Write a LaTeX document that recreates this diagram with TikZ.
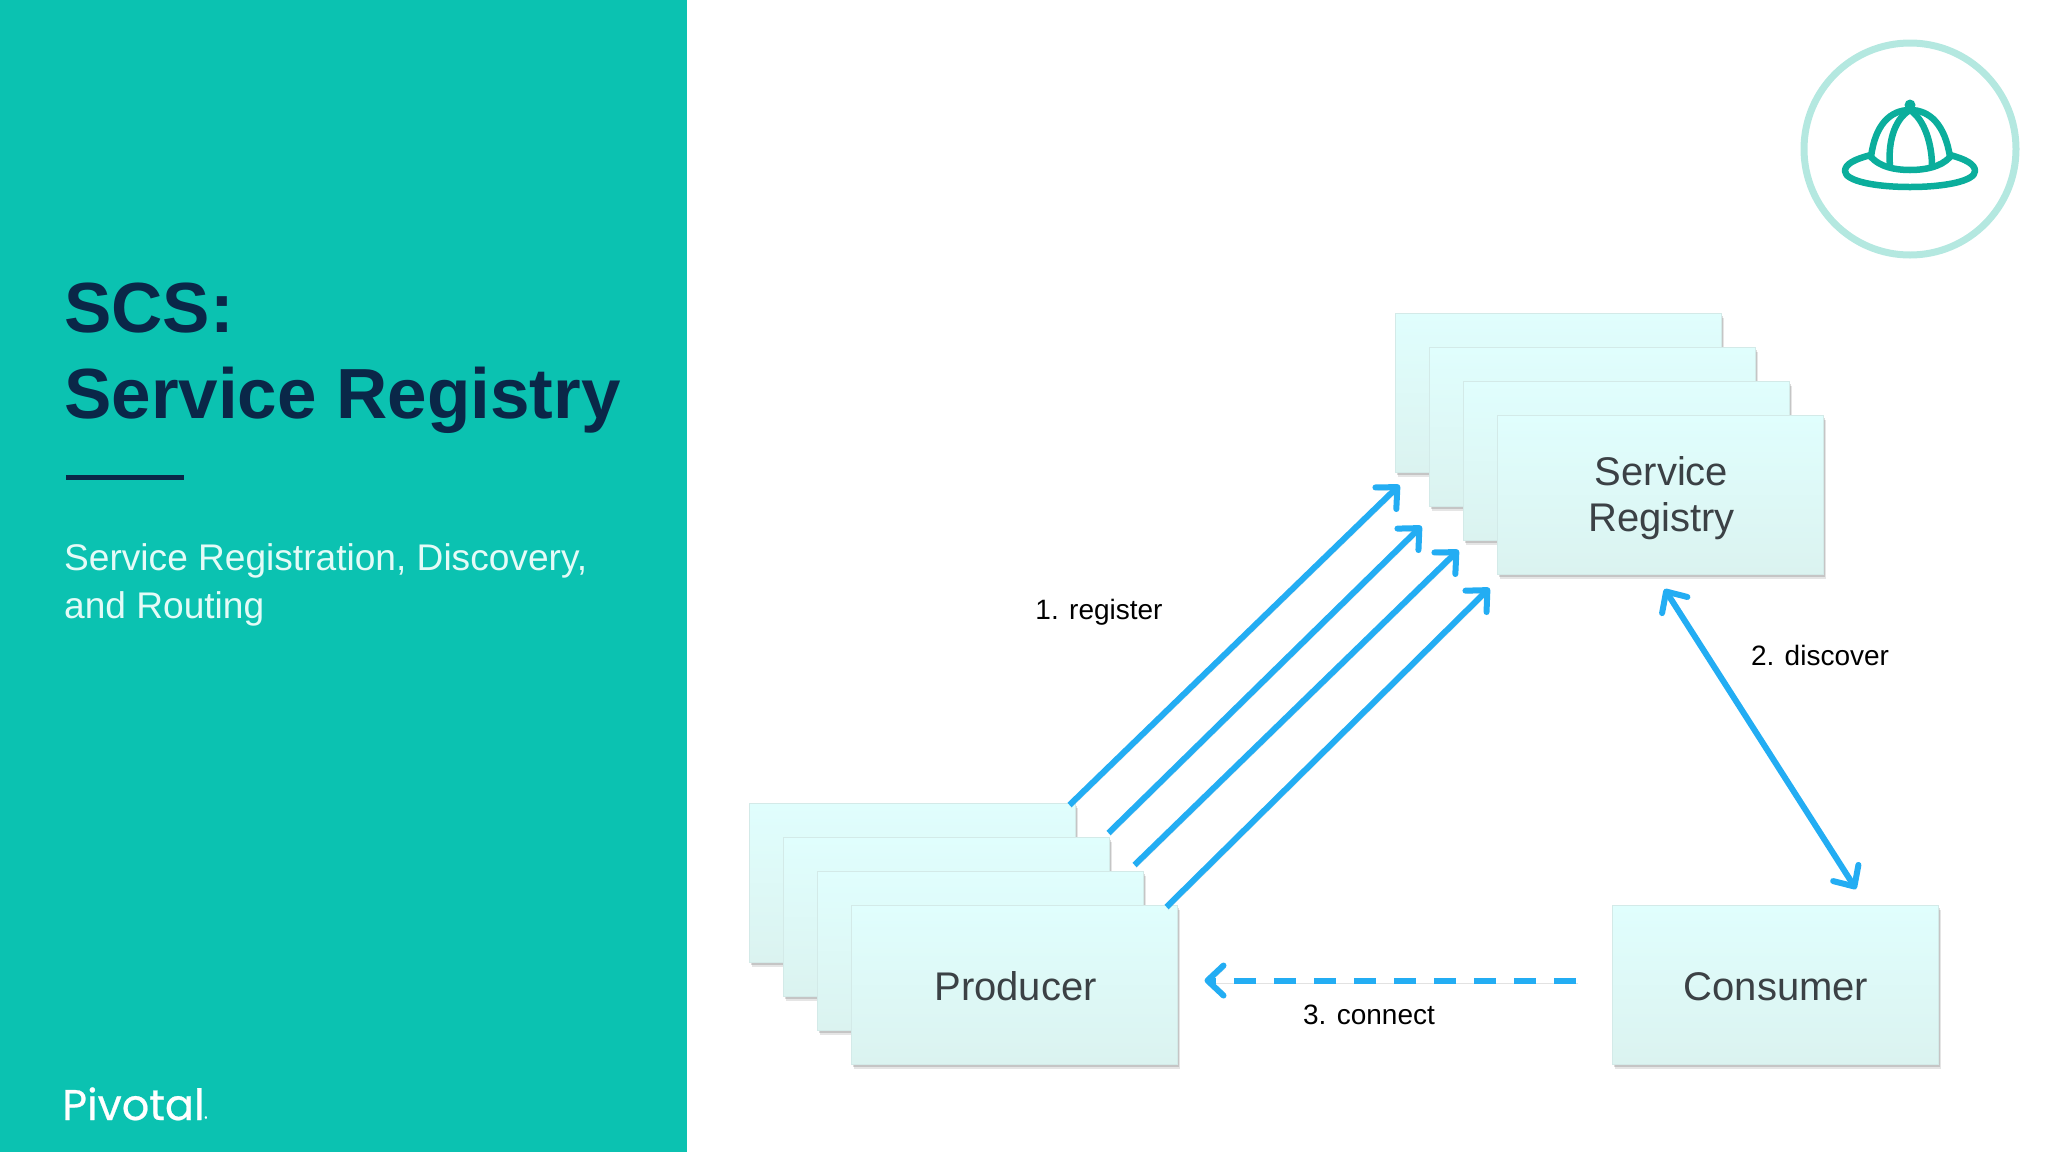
\documentclass[tikz,border=0pt]{standalone}
\usepackage{fontspec}
\setmainfont{Liberation Sans}
\newfontfamily\logofont[FakeBold=0.5]{Poppins}
\usetikzlibrary{arrows.meta,shadows}

\definecolor{panelteal}{HTML}{0BC2B1}
\definecolor{titlenavy}{HTML}{0A2748}
\definecolor{bodywhite}{HTML}{E4FBF7}
\definecolor{boxtop}{HTML}{E0FEFD}
\definecolor{boxbottom}{HTML}{DBF3F0}
\definecolor{boxedge}{HTML}{D3EAE8}
\definecolor{boxtext}{HTML}{3B4145}
\definecolor{arrowblue}{HTML}{23ADF3}
\definecolor{ringteal}{HTML}{B4E8E0}
\definecolor{hatteal}{HTML}{0BAE9C}

\newcommand{\lowered}[2]{\raisebox{-#1}[\height][\depth]{#2}}

\tikzset{
    stackbox/.style={draw=boxedge, line width=1pt, top color=boxtop, bottom color=boxbottom,
        minimum width=326pt, minimum height=159pt, inner sep=0pt, outer sep=0pt,
        align=center, text=boxtext, font=\fontsize{40}{46}\selectfont,
        drop shadow={shadow xshift=2.5pt, shadow yshift=-4.5pt, opacity=.1, fill=black},
        drop shadow={shadow xshift=1.5pt, shadow yshift=-2.5pt, opacity=.14, fill=black}},
    flow/.style={draw=arrowblue, line width=6pt,
        preaction={draw=black!45, opacity=.25, transform canvas={shift={(1.5pt,-3pt)}}}},
    flowlabel/.style={text=black, inner sep=0pt, font=\fontsize{28}{32}\selectfont},
    hatline/.style={draw=hatteal, line width=6.5pt, line cap=round, line join=round}
}

\begin{document}
\begin{tikzpicture}[x=1pt, y=-1pt, >={Straight Barb[length=16pt, width=30pt, round, line width=6pt]}]
    \useasboundingbox (0,0) rectangle (2048,1152);

    % Left Panel
    \fill[panelteal] (0,0) rectangle (687,1152);
    \node[anchor=north west, align=left, inner sep=0pt, text=titlenavy, font=\bfseries\fontsize{71}{86}\selectfont] (title) at (64,283) {SCS:\\Service Registry};
    \draw[titlenavy, line width=5pt] (66,477) -- (184,477);
    \node[anchor=north west, align=left, inner sep=0pt, text=bodywhite, font=\fontsize{37.1}{48}\selectfont] (subtitle) at (64,543) {Service Registration, Discovery,\\and Routing};
    \node[anchor=base west, inner sep=0pt, text=white, font=\logofont\fontsize{43}{50}\selectfont] (logo) at (62,1120) {Pivotal\fontsize{5}{6}\selectfont\textregistered};

    % Hat Badge
    \node[draw=ringteal, line width=7pt, circle, minimum size=212pt, inner sep=0pt] (badge) at (1910,149) {};
    \draw[hatline] (1871,155) .. controls (1855,159) and (1845,164) .. (1845,171) .. controls (1845,181) and (1875,187) .. (1910,187) .. controls (1945,187) and (1975,181) .. (1975,171) .. controls (1975,164) and (1965,159) .. (1950,155);
    \draw[hatline] (1871,157) .. controls (1880,167) and (1895,170) .. (1910,170) .. controls (1925,170) and (1941,167) .. (1950,157);
    \draw[hatline] (1871,157) .. controls (1875,125) and (1890,110) .. (1910,110) .. controls (1930,110) and (1945,125) .. (1950,157);
    \draw[hatline] (1910,110) .. controls (1893,120) and (1888,145) .. (1890,166);
    \draw[hatline] (1910,110) .. controls (1925,120) and (1932,145) .. (1932,166);
    \fill[hatteal] (1910,105) circle (5.5);

    % Service Registry Stack
    \node[stackbox] (reg1) at (1558.5,392.5) {};
    \node[stackbox] (reg2) at ([shift={(34,34)}]reg1.center) {};
    \node[stackbox] (reg3) at ([shift={(34,34)}]reg2.center) {};
    \node[stackbox] (reg4) at ([shift={(34,34)}]reg3.center) {\hspace*{2pt}\lowered{4pt}{Service}\\\hspace*{2pt}\lowered{4pt}{Registry}};

    % Producer Stack
    \node[stackbox] (prod1) at (912.5,882.5) {};
    \node[stackbox] (prod2) at ([shift={(34,34)}]prod1.center) {};
    \node[stackbox] (prod3) at ([shift={(34,34)}]prod2.center) {};
    \node[stackbox] (prod4) at ([shift={(34,34)}]prod3.center) {\hspace*{2pt}\lowered{2pt}{Producer}};

    % Consumer
    \node[stackbox] (consumer) at (1775,984.5) {\hspace*{2pt}\lowered{2pt}{Consumer}};

    % Arrows
    \draw[->, flow] ([shift={(-6,2)}]prod1.north east) -- ([shift={(4,13)}]reg1.south west);
    \draw[->, flow] ([shift={(-1,-4)}]prod2.north east) -- ([shift={(-8,20)}]reg2.south west);
    \draw[->, flow] ([shift={(-9,-6)}]prod3.north east) -- ([shift={(-5,10)}]reg3.south west);
    \draw[->, flow] ([shift={(-11,2)}]prod4.north east) -- ([shift={(-8,14)}]reg4.south west);
    \draw[<->, flow] ([shift={(4,15)}]reg4.south) -- ([shift={(81,-16)}]consumer.north);
    \draw[->, flow, dash pattern=on 22pt off 18pt] ([shift={(-36,-4)}]consumer.west) -- ([shift={(27,-4)}]prod4.east);

    % Labels
    \node[flowlabel] (register) at (1099,612) {1. register};
    \node[flowlabel] (discover) at (1820,655) {2. discover};
    \node[flowlabel] (connect) at (1369,1015) {3. connect};
\end{tikzpicture}
\end{document}
